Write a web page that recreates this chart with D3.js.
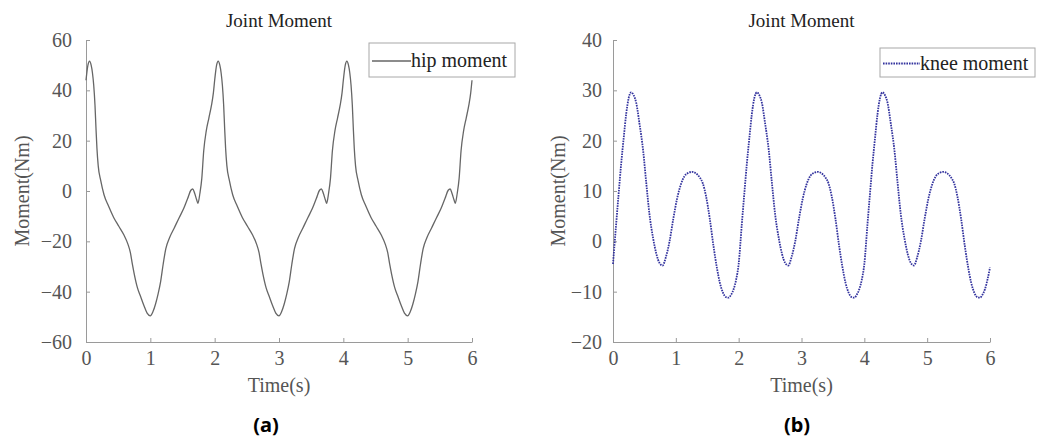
<!DOCTYPE html>
<html>
<head>
<meta charset="utf-8">
<script src="https://cdn.jsdelivr.net/npm/d3@7"></script>
<style>
    body { margin: 0; background: #fff; }
    svg { display: block; }
    text { font-family: "Liberation Serif", "Times New Roman", serif; }
</style>
</head>
<body>
<div id="chart"></div>
<script>
/*
*    joint moment panels (a) hip, (b) knee
*/

// time axis ticks (shared)
var timeTicks = [0, 1, 2, 3, 4, 5, 6];
var hipTicks = [-60, -40, -20, 0, 20, 40, 60];
var kneeTicks = [-20, -10, 0, 10, 20, 30, 40];

// hip moment
var hipTime = [
    0, 0.03, 0.055, 0.08, 0.1, 0.12, 0.14, 0.155, 0.17, 0.19, 0.23, 0.28, 0.35, 0.43, 0.51, 0.59,
    0.65, 0.69, 0.72, 0.75, 0.8, 0.85, 0.9, 0.95, 1.0, 1.04, 1.08, 1.12, 1.16, 1.2, 1.24, 1.3,
    1.37, 1.45, 1.52, 1.58, 1.63, 1.66, 1.69, 1.72, 1.74, 1.77, 1.8, 1.83, 1.87, 1.91, 1.95, 1.98,
    2, 2.03, 2.055, 2.08, 2.1, 2.12, 2.14, 2.155, 2.17, 2.19, 2.23, 2.28, 2.35, 2.43, 2.51, 2.59,
    2.65, 2.69, 2.72, 2.75, 2.8, 2.85, 2.9, 2.95, 3.0, 3.04, 3.08, 3.12, 3.16, 3.2, 3.24, 3.3,
    3.37, 3.45, 3.52, 3.58, 3.63, 3.66, 3.69, 3.72, 3.74, 3.77, 3.8, 3.83, 3.87, 3.91, 3.95, 3.98,
    4, 4.03, 4.055, 4.08, 4.1, 4.12, 4.14, 4.155, 4.17, 4.19, 4.23, 4.28, 4.35, 4.43, 4.51, 4.59,
    4.65, 4.69, 4.72, 4.75, 4.8, 4.85, 4.9, 4.95, 5.0, 5.04, 5.08, 5.12, 5.16, 5.2, 5.24, 5.3,
    5.37, 5.45, 5.52, 5.58, 5.63, 5.66, 5.69, 5.72, 5.74, 5.77, 5.8, 5.83, 5.87, 5.91, 5.95, 5.98,
    6.0
];
var hipMoment = [
    44, 50, 51.6, 50, 47, 42, 34, 25, 17, 10, 4, -1.5, -6, -10.5, -14, -17.5,
    -21, -24.5, -29, -33, -38.5, -42, -45.5, -48.5, -49.6, -48, -45, -41, -36, -29, -23, -18.5,
    -14.8, -10.5, -6.9, -3, 0.3, 0.8, -1, -3.5, -4.9, -1, 5, 16, 24, 29, 34, 39,
    44, 50, 51.6, 50, 47, 42, 34, 25, 17, 10, 4, -1.5, -6, -10.5, -14, -17.5,
    -21, -24.5, -29, -33, -38.5, -42, -45.5, -48.5, -49.6, -48, -45, -41, -36, -29, -23, -18.5,
    -14.8, -10.5, -6.9, -3, 0.3, 0.8, -1, -3.5, -4.9, -1, 5, 16, 24, 29, 34, 39,
    44, 50, 51.6, 50, 47, 42, 34, 25, 17, 10, 4, -1.5, -6, -10.5, -14, -17.5,
    -21, -24.5, -29, -33, -38.5, -42, -45.5, -48.5, -49.6, -48, -45, -41, -36, -29, -23, -18.5,
    -14.8, -10.5, -6.9, -3, 0.3, 0.8, -1, -3.5, -4.9, -1, 5, 16, 24, 29, 34, 39,
    44
];

// knee moment
var kneeTime = [
    0, 0.05, 0.09, 0.13, 0.17, 0.21, 0.25, 0.29, 0.33, 0.37, 0.42, 0.48, 0.53, 0.58, 0.64, 0.69,
    0.74, 0.79, 0.84, 0.9, 0.96, 1.02, 1.08, 1.14, 1.2, 1.26, 1.32, 1.38, 1.43, 1.48, 1.54, 1.6,
    1.65, 1.7, 1.75, 1.8, 1.84, 1.88, 1.92, 1.96,
    2, 2.05, 2.09, 2.13, 2.17, 2.21, 2.25, 2.29, 2.33, 2.37, 2.42, 2.48, 2.53, 2.58, 2.64, 2.69,
    2.74, 2.79, 2.84, 2.9, 2.96, 3.02, 3.08, 3.14, 3.2, 3.26, 3.32, 3.38, 3.43, 3.48, 3.54, 3.6,
    3.65, 3.7, 3.75, 3.8, 3.84, 3.88, 3.92, 3.96,
    4, 4.05, 4.09, 4.13, 4.17, 4.21, 4.25, 4.29, 4.33, 4.37, 4.42, 4.48, 4.53, 4.58, 4.64, 4.69,
    4.74, 4.79, 4.84, 4.9, 4.96, 5.02, 5.08, 5.14, 5.2, 5.26, 5.32, 5.38, 5.43, 5.48, 5.54, 5.6,
    5.65, 5.7, 5.75, 5.8, 5.84, 5.88, 5.92, 5.96,
    6.0
];
var kneeMoment = [
    -4.5, 3.4, 9.5, 15.4, 20.5, 25.3, 28.5, 29.6, 29, 27.5, 23.5, 18, 11.5, 5.4, 0.5, -2.5,
    -4.3, -4.8, -3.2, 0, 4.5, 8.5, 11.3, 13, 13.6, 13.8, 13.5, 12.7, 11.5, 9, 4.5, -1,
    -5, -8.2, -10.2, -11.1, -11.2, -10.6, -9.5, -7.6,
    -4.5, 3.4, 9.5, 15.4, 20.5, 25.3, 28.5, 29.6, 29, 27.5, 23.5, 18, 11.5, 5.4, 0.5, -2.5,
    -4.3, -4.8, -3.2, 0, 4.5, 8.5, 11.3, 13, 13.6, 13.8, 13.5, 12.7, 11.5, 9, 4.5, -1,
    -5, -8.2, -10.2, -11.1, -11.2, -10.6, -9.5, -7.6,
    -4.5, 3.4, 9.5, 15.4, 20.5, 25.3, 28.5, 29.6, 29, 27.5, 23.5, 18, 11.5, 5.4, 0.5, -2.5,
    -4.3, -4.8, -3.2, 0, 4.5, 8.5, 11.3, 13, 13.6, 13.8, 13.5, 12.7, 11.5, 9, 4.5, -1,
    -5, -8.2, -10.2, -11.1, -11.2, -10.6, -9.5, -7.6,
    -5.2
];

var svg = d3.select("#chart").append("svg")
    .attr("width", 1051)
    .attr("height", 443);

MomentPanel = function(_opts){
    this.opts = _opts;
    this.initVis();
};

MomentPanel.prototype.initVis = function(){
    var vis = this;
    var o = vis.opts;

    vis.width = o.right - o.left;
    vis.height = o.bottom - o.top;

    vis.g = svg.append("g")
        .attr("transform", "translate(" + o.left + "," + o.top + ")");

    vis.x = d3.scaleLinear().domain([0, 6]).range([0, vis.width]);
    vis.y = d3.scaleLinear().domain(d3.extent(o.yTicks)).range([vis.height, 0]);

    vis.xAxisCall = d3.axisBottom(vis.x)
        .tickValues(timeTicks)
        .tickFormat(d3.format("d"))
        .tickSizeInner(-4)
        .tickSizeOuter(0)
        .tickPadding(9);

    vis.yAxisCall = d3.axisLeft(vis.y)
        .tickValues(o.yTicks)
        .tickFormat(function(d){ return d < 0 ? "\u2212" + Math.abs(d) : d; })
        .tickSizeInner(-4)
        .tickSizeOuter(0)
        .tickPadding(o.yPad);

    vis.xAxis = vis.g.append("g")
        .attr("transform", "translate(0," + vis.height + ")")
        .call(vis.xAxisCall);

    vis.yAxis = vis.g.append("g")
        .call(vis.yAxisCall);

    vis.g.selectAll(".domain, .tick line")
        .attr("stroke", "#9a9a9a")
        .attr("stroke-width", 1);

    vis.g.selectAll(".tick text")
        .attr("fill", "#555")
        .style("font-size", "20px")
        .style("font-family", "'Liberation Serif', serif");

    // titles
    vis.g.append("text")
        .attr("x", vis.width / 2)
        .attr("y", -20)
        .attr("dy", "0.35em")
        .attr("text-anchor", "middle")
        .attr("fill", "#222")
        .style("font-size", "19px")
        .text("Joint Moment");

    vis.g.append("text")
        .attr("x", vis.width / 2 + o.xLabelShift)
        .attr("y", vis.height + 43)
        .attr("dy", "0.35em")
        .attr("text-anchor", "middle")
        .attr("fill", "#555")
        .style("font-size", "20px")
        .text("Time(s)");

    vis.g.append("text")
        .attr("transform", "translate(" + o.yLabelX + "," + (vis.height / 2) + ") rotate(-90)")
        .attr("dy", "0.35em")
        .attr("text-anchor", "middle")
        .attr("fill", "#555")
        .style("font-size", "20px")
        .text("Moment(Nm)");

    svg.append("text")
        .attr("x", o.capX)
        .attr("y", 425)
        .attr("dy", "0.35em")
        .attr("text-anchor", "middle")
        .attr("fill", "#000")
        .style("font-family", "'Noto Sans', sans-serif")
        .style("font-weight", "bold")
        .style("font-size", "20px")
        .text(o.caption);

    vis.line = d3.line()
        .x(function(d){ return vis.x(d[0]); })
        .y(function(d){ return vis.y(d[1]); })
        .curve(d3.curveMonotoneX);

    vis.data = d3.zip(o.time, o.values);

    vis.g.append("path")
        .datum(vis.data)
        .attr("fill", "none")
        .attr("stroke", o.color)
        .attr("stroke-width", o.lineWidth)
        .attr("stroke-dasharray", o.dash)
        .attr("d", vis.line);

    // legend
    var lg = svg.append("g")
        .attr("transform", "translate(" + o.legend.x + "," + o.legend.y + ")");
    lg.append("rect")
        .attr("width", o.legend.w)
        .attr("height", o.legend.h)
        .attr("fill", "#fff")
        .attr("stroke", "#a8a8a8");
    lg.append("line")
        .attr("x1", 3).attr("x2", o.legend.lineEnd)
        .attr("y1", o.legend.h / 2 + 1).attr("y2", o.legend.h / 2 + 1)
        .attr("stroke", o.color)
        .attr("stroke-width", o.lineWidth)
        .attr("stroke-dasharray", o.dash);
    lg.append("text")
        .attr("x", o.legend.lineEnd)
        .attr("y", o.legend.h / 2)
        .attr("dy", "0.35em")
        .attr("fill", "#222")
        .style("font-size", "20px")
        .text(o.label);
};

new MomentPanel({
    left: 86, right: 472, top: 40, bottom: 342,
    yTicks: hipTicks, yPad: 14, yLabelX: -64, xLabelShift: 0,
    time: hipTime, values: hipMoment,
    color: "#666", lineWidth: 1.3, dash: null,
    caption: "(a)", capX: 266,
    label: "hip moment",
    legend: {x: 369, y: 43, w: 146, h: 34, lineEnd: 42}
});

new MomentPanel({
    left: 613, right: 990, top: 40, bottom: 342,
    yTicks: kneeTicks, yPad: 11, yLabelX: -55, xLabelShift: 0,
    time: kneeTime, values: kneeMoment,
    color: "#33339e", lineWidth: 1.8, dash: "1.6,1",
    caption: "(b)", capX: 797,
    label: "knee moment",
    legend: {x: 880, y: 48, w: 155, h: 29, lineEnd: 40}
});
</script>
</body>
</html>
